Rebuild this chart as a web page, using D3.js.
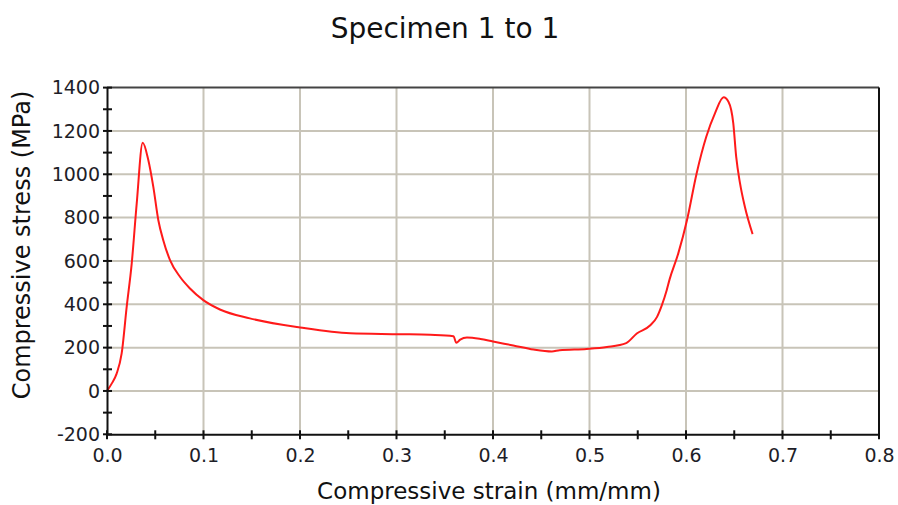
<!DOCTYPE html>
<html>
<head>
<meta charset="utf-8">
<script src="https://cdn.jsdelivr.net/npm/d3@7"></script>
<style>
  html, body { margin: 0; padding: 0; background: #fff; }
  svg { display: block; }
  text { font-family: "DejaVu Sans", Verdana, sans-serif; }
</style>
</head>
<body>
<svg id="chart" width="898" height="505"></svg>
<script>
const title = "Specimen 1 to 1";
const xTitle = "Compressive strain (mm/mm)";
const yTitle = "Compressive stress (MPa)";

const xTicks = [0, 0.1, 0.2, 0.3, 0.4, 0.5, 0.6, 0.7, 0.8];
const xMinorTicks = [0.05, 0.15, 0.25, 0.35, 0.45, 0.55, 0.65, 0.75];
const yTicks = [-200, 0, 200, 400, 600, 800, 1000, 1200, 1400];
const yMinorTicks = [-100, 100, 300, 500, 700, 900, 1100, 1300];

const strain = [0, 0.005, 0.010, 0.0152, 0.0204, 0.0256, 0.0308, 0.0370, 0.0428, 0.048, 0.0532, 0.0583, 0.0653,
  0.0756, 0.086, 0.0998, 0.117, 0.148, 0.2, 0.252, 0.304, 0.335, 0.359, 0.362, 0.366, 0.373, 0.387,
  0.4, 0.421, 0.442, 0.461, 0.469, 0.497, 0.518, 0.538, 0.549, 0.563, 0.570, 0.575, 0.580, 0.583,
  0.592, 0.601, 0.611, 0.621, 0.630, 0.639, 0.644, 0.649, 0.652, 0.656, 0.661, 0.669];
const stress = [0, 35, 80, 173, 388, 588, 866, 1146, 1066, 942, 788, 696, 604,
  527, 473, 419, 376, 335, 293, 266, 262, 259, 253, 222, 237, 247, 240,
  228, 210, 191, 182, 188, 194, 203, 221, 265, 303, 342, 396, 465, 515,
  635, 788, 1004, 1173, 1281, 1355, 1335, 1235, 1081, 958, 850, 724];

const svg = d3.select("#chart");
const pL = 107, pR = 879, pT = 87.6, pB = 434.3;

const x = d3.scaleLinear().domain([0, 0.8]).range([pL, pR]);
const y = d3.scaleLinear().domain([-200, 1400]).range([pB, pT]);

const gridColor = "#c8c4b8";

// grid
svg.append("g").selectAll("line").data(xTicks.slice(1, -1)).join("line")
  .attr("x1", d => x(d)).attr("x2", d => x(d))
  .attr("y1", pT).attr("y2", pB)
  .attr("stroke", gridColor).attr("stroke-width", 2);
svg.append("g").selectAll("line").data(yTicks.slice(1, -1)).join("line")
  .attr("x1", pL).attr("x2", pR)
  .attr("y1", d => y(d)).attr("y2", d => y(d))
  .attr("stroke", gridColor).attr("stroke-width", 2);

// border top & right
svg.append("line").attr("x1", pL).attr("x2", pR).attr("y1", pT).attr("y2", pT)
  .attr("stroke", "#444").attr("stroke-width", 2);
svg.append("line").attr("x1", pR).attr("x2", pR).attr("y1", pT).attr("y2", pB)
  .attr("stroke", "#111").attr("stroke-width", 2);

// data line
const line = d3.line()
  .x((d, i) => x(strain[i]))
  .y(d => y(d))
  .curve(d3.curveMonotoneX);
svg.append("path").datum(stress)
  .attr("d", line)
  .attr("fill", "none")
  .attr("stroke", "#ff1a1a")
  .attr("stroke-width", 2)
  .attr("stroke-linejoin", "round");

// axes
const xAxis = d3.axisBottom(x).tickValues(xTicks).tickFormat(d3.format(".1f")).tickSize(0).tickPadding(14);
const gx = svg.append("g").attr("transform", `translate(0,${pB})`).call(xAxis);
gx.select(".domain").attr("stroke", "#111").attr("stroke-width", 2);
gx.selectAll("text").attr("font-size", 19).attr("fill", "#1e1e28")
  .attr("font-family", "DejaVu Sans, Verdana, sans-serif");

const yAxis = d3.axisLeft(y).tickValues(yTicks).tickFormat(d => String(d)).tickSize(0).tickPadding(7);
const gy = svg.append("g").attr("transform", `translate(${pL},0)`).call(yAxis);
gy.select(".domain").attr("stroke", "#111").attr("stroke-width", 2);
gy.selectAll("text").attr("font-size", 19).attr("fill", "#1e1e28")
  .attr("font-family", "DejaVu Sans, Verdana, sans-serif");

// tick marks crossing the axes
svg.append("g").selectAll("line").data(xTicks.concat(xMinorTicks)).join("line")
  .attr("x1", d => x(d)).attr("x2", d => x(d))
  .attr("y1", pB - 4).attr("y2", pB + 5)
  .attr("stroke", "#111").attr("stroke-width", 2);
svg.append("g").selectAll("line").data(yTicks.concat(yMinorTicks)).join("line")
  .attr("x1", pL - 4).attr("x2", pL + 5)
  .attr("y1", d => y(d)).attr("y2", d => y(d))
  .attr("stroke", "#111").attr("stroke-width", 2);

// titles
svg.append("text").attr("x", 445).attr("y", 38).attr("text-anchor", "middle")
  .attr("font-size", 28).attr("fill", "#111").text(title);
svg.append("text").attr("x", 489).attr("y", 499).attr("text-anchor", "middle")
  .attr("font-size", 23).attr("fill", "#111").text(xTitle);
svg.append("text").attr("transform", "translate(30,245) rotate(-90)").attr("text-anchor", "middle")
  .attr("font-size", 24).attr("fill", "#111").text(yTitle);
</script>
</body>
</html>
